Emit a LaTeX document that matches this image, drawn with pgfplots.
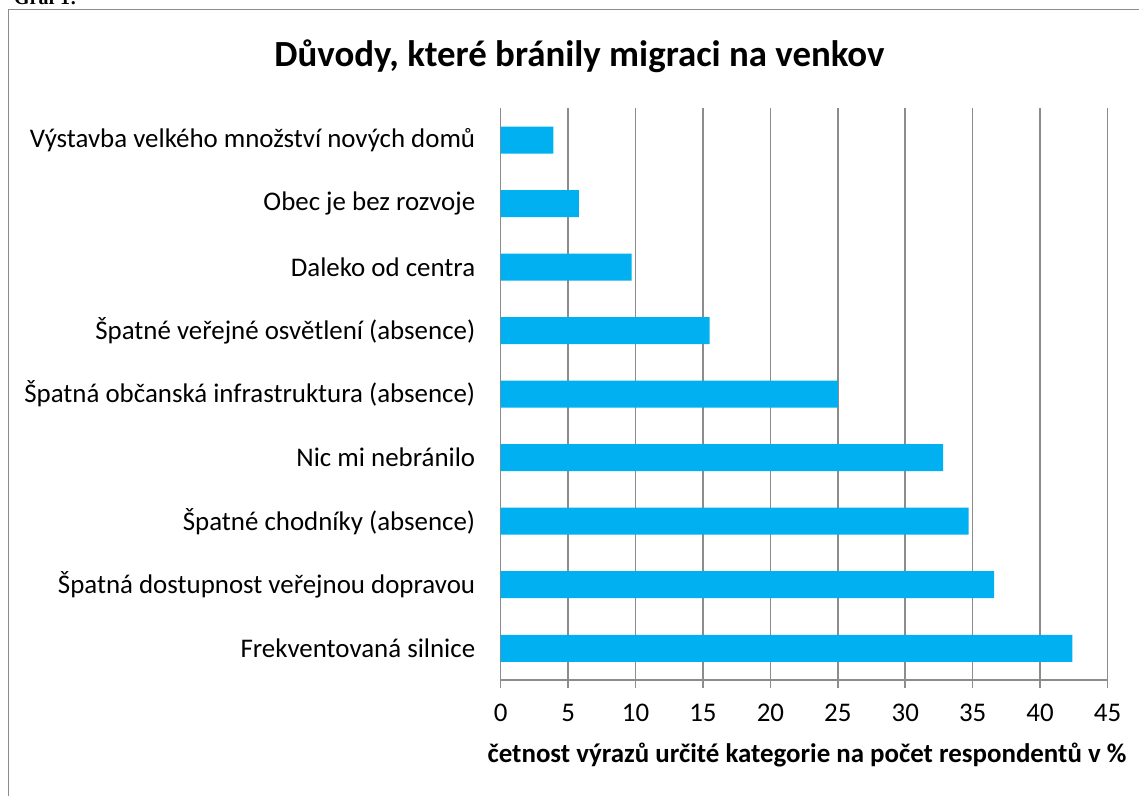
\documentclass[border=0pt]{standalone}
\usepackage{pgfplots}
\pgfplotsset{compat=1.18}
\usepackage{fontspec}
\setmainfont{Carlito}
\newfontfamily\serifbold{Liberation Serif}
\definecolor{barblue}{HTML}{00B0F0}
\definecolor{gridgray}{HTML}{8C8C8C}
\begin{document}
\begin{tikzpicture}[x=1bp,y=1bp]
\clip (0,0) rectangle (1139,-796);
\fill[white] (0,0) rectangle (1139,-796);
\node[anchor=base west,inner sep=0pt,font=\serifbold\bfseries\fontsize{20}{24}\selectfont] at (14,-5) {Graf 1:};
\draw[gridgray,line width=1.5bp] (8.5,-830) -- (8.5,-9.5) -- (1160,-9.5);
\begin{axis}[
  at={(500.7bp,-680bp)}, anchor=south west,
  scale only axis, width=606.8bp, height=571.7bp,
  xbar, bar width=27bp,
  xmin=0, xmax=45, xtick={0,5,...,45},
  ymin=0.5, ymax=9.5, ytick={1,...,9},
  yticklabels={Frekventovaná silnice,Špatná dostupnost veřejnou dopravou,Špatné chodníky (absence),Nic mi nebránilo,Špatná občanská infrastruktura (absence),Špatné veřejné osvětlení (absence),Daleko od centra,Obec je bez rozvoje ,Výstavba velkého množství nových domů},
  axis lines*=left,
  axis line style={gridgray,line width=1.5bp},
  xmajorgrids, major grid style={gridgray,line width=1.5bp},
  tick align=outside, major tick length=8bp,
  xtick style={gridgray,line width=1.5bp},
  ytick style={draw=none},
  /pgf/number format/assume math mode=true,
  tick label style={font=\fontsize{27}{32}\selectfont,black},
  xticklabel style={yshift=-13bp},
  yticklabel style={xshift=-14bp},
  clip=false,
]
\addplot[fill=barblue,draw=none] coordinates {
(42.4,1) (36.6,2) (34.7,3) (32.8,4) (25.0,5) (15.5,6) (9.7,7) (5.8,8) (3.9,9)};
\end{axis}
\node[font=\bfseries\fontsize{37}{42}\selectfont,anchor=base] at (579.5,-66.7) {Důvody, které bránily migraci na venkov};
\node[font=\bfseries\fontsize{27}{32}\selectfont,anchor=base] at (807,-762) {četnost výrazů určité kategorie na počet respondentů v \%};
\end{tikzpicture}
\end{document}
